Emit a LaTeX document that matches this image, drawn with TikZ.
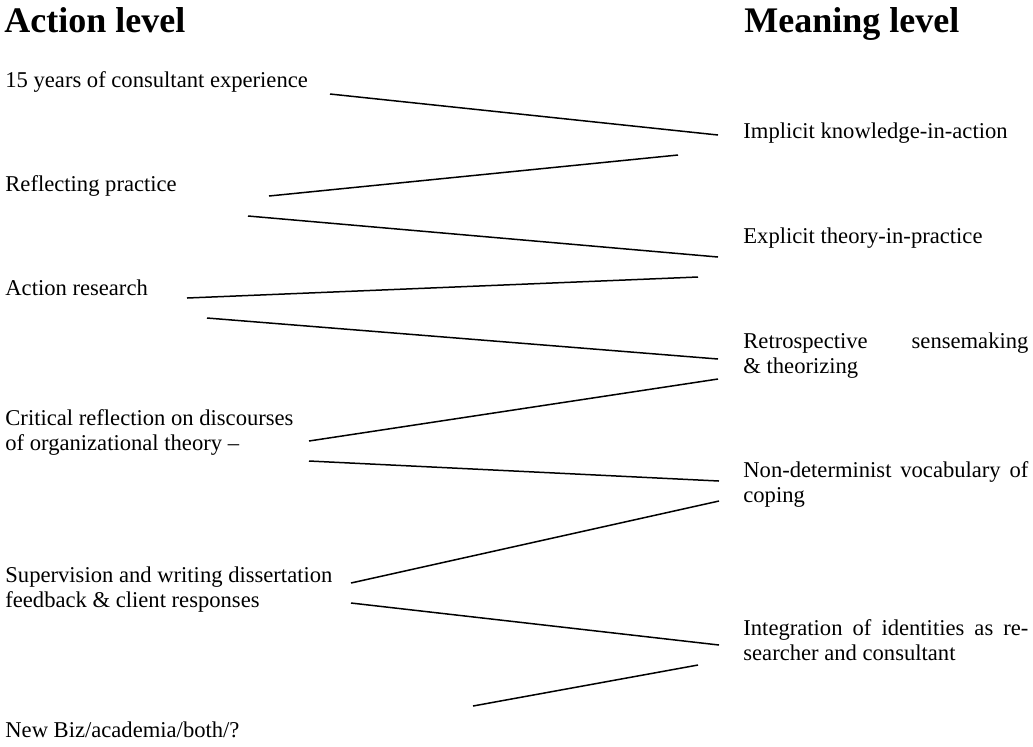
\documentclass[tikz,border=0pt]{standalone}
\usepackage{fontspec}
\setmainfont{Liberation Serif}
\usepackage{tikz}
\tikzstyle{head}=[anchor=base west, inner sep=0pt, font=\fontsize{18}{21}\selectfont\bfseries]
\tikzstyle{act}=[anchor=base west, inner sep=0pt, align=left, font=\fontsize{11.3}{12.5}\selectfont]
\tikzstyle{mean}=[anchor=base west, inner sep=0pt, text width=142.5pt, align=justify, font=\fontsize{11.3}{12.5}\selectfont]
\tikzstyle{link}=[line width=0.75pt]

\begin{document}
\begin{tikzpicture}[x=0.5pt,y=-0.5pt]
    \useasboundingbox (0,0) rectangle (1033,746);
    % column headings
    \node [head] (acth) at (4,32) {Action level};
    \node [head] (meanh) at (744,32) {Meaning level};
    % action level
    \node [act] (years) at (5,87) {15 years of consultant experience};
    \node [act] (refl) at (5,191) {Reflecting practice};
    \node [act] (ar) at (5,295) {Action research};
    \node [act] (crit) at (5,450) {Critical reflection on discourses\\of organizational theory --};
    \node [act] (sup) at (5,607) {Supervision and writing dissertation\\feedback \& client responses};
    \node [act] (biz) at (5,737) {New Biz/academia/both/?};
    % meaning level
    \node [mean] (impl) at (743,138) {Implicit knowledge-in-action};
    \node [mean] (expl) at (743,243) {Explicit theory-in-practice};
    \node [mean] (retro) at (743,348) {Retrospective sensemaking\linebreak \& theorizing};
    \node [mean] (nondet) at (743,477) {Non-determinist vocabulary of\linebreak coping};
    \node [mean] (integ) at (743,635) {Integration of identities as re-\linebreak searcher and consultant};
    % line ends
    \coordinate (a1) at (330,94);  \coordinate (b1) at (718,135);
    \coordinate (a2) at (269,196); \coordinate (b2) at (678,155);
    \coordinate (a3) at (248,216); \coordinate (b3) at (718,257);
    \coordinate (a4) at (187,298); \coordinate (b4) at (698,277);
    \coordinate (a5) at (207,318); \coordinate (b5) at (718,359);
    \coordinate (a6) at (309,441); \coordinate (b6) at (718,379);
    \coordinate (a7) at (309,461); \coordinate (b7) at (719,481);
    \coordinate (a8) at (351,583); \coordinate (b8) at (719,501);
    \coordinate (a9) at (351,603); \coordinate (b9) at (719,645);
    \coordinate (a10) at (473,706); \coordinate (b10) at (698,665);
    \path[link]
        (a1) edge (b1)
        (b2) edge (a2)
        (a3) edge (b3)
        (b4) edge (a4)
        (a5) edge (b5)
        (b6) edge (a6)
        (a7) edge (b7)
        (b8) edge (a8)
        (a9) edge (b9)
        (b10) edge (a10);
\end{tikzpicture}
\end{document}
